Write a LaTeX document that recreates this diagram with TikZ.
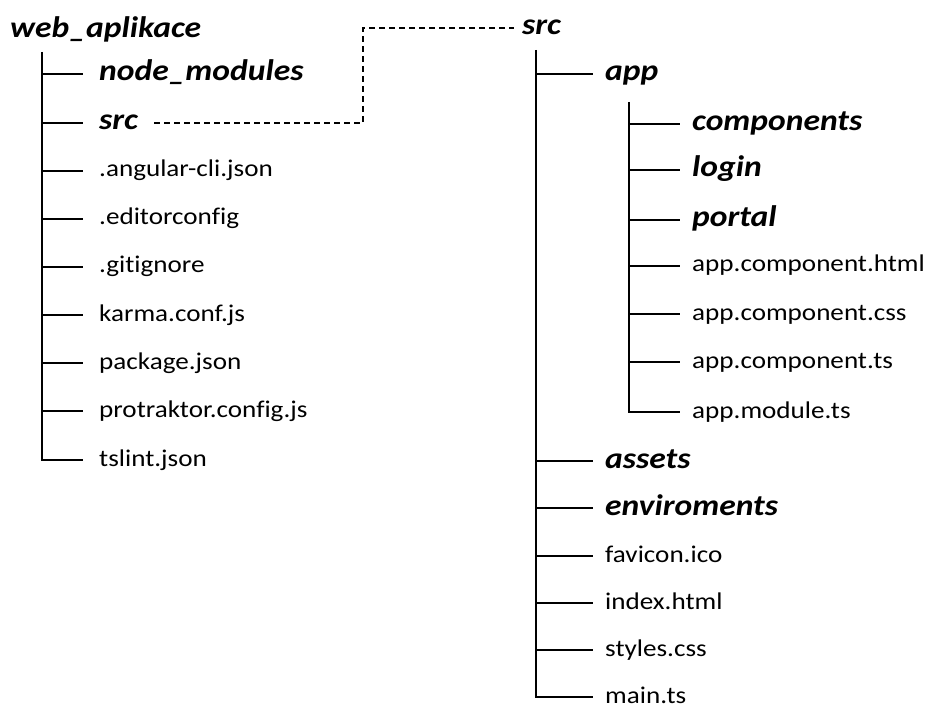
\documentclass[tikz,border=0pt]{standalone}
\usepackage{fontspec}
\setmainfont{Carlito}[FakeStretch=1.13,Ligatures=NoCommon]
\usepackage{tikz}
\usetikzlibrary{positioning}

\tikzset{
  rootnode/.style={anchor=west, inner xsep=8pt, inner ysep=0pt, text height=21pt, text depth=7pt,
    font=\fontsize{29.7}{34}\selectfont\bfseries\itshape},
  dirnode/.style={anchor=west, inner xsep=12pt, inner ysep=0pt, text height=21pt, text depth=7pt,
    font=\fontsize{29.7}{34}\selectfont\bfseries\itshape},
  filenode/.style={anchor=west, inner xsep=12pt, inner ysep=0pt, text height=18pt, text depth=6pt,
    font=\fontsize{24}{28}\selectfont},
  leftgap/.style={inner xsep=16pt},
  treeline/.style={line width=1.6pt},
  linkline/.style={line width=1.4pt, dash pattern=on 6pt off 4pt}
}

\begin{document}
\begin{tikzpicture}[x=1pt,y=-1pt]
\useasboundingbox (0,0) rectangle (928,708);

% web_aplikace
\node[rootnode] (web) at (2,31) {web\_aplikace};
\node[dirnode,leftgap] (nodemod) at (83,74) {node\_modules};
\node[dirnode,leftgap] (srcL) at (83,123) {src};
\node[filenode,leftgap] (angcli) at (83,171) {.angular-cli.json};
\node[filenode,leftgap] (editcfg) at (83,219) {.editorconfig};
\node[filenode,leftgap] (gitign) at (83,267) {.gitignore};
\node[filenode,leftgap] (karma) at (83,315) {karma.conf.js};
\node[filenode,leftgap] (pkg) at (83,363) {package.json};
\node[filenode,leftgap] (protr) at (83,411) {protraktor.config.js};
\node[filenode,leftgap] (tslint) at (83,460) {tslint.json};

\coordinate (webtrunk) at (42,52);
\draw[treeline] (webtrunk) |- (tslint.west);
\foreach \n in {nodemod,srcL,angcli,editcfg,gitign,karma,pkg,protr}
  \draw[treeline] (webtrunk |- \n.west) -- (\n.west);

% src
\node[rootnode] (srcR) at (514,28) {src};
\node[dirnode] (app) at (593,74) {app};
\node[dirnode] (assets) at (593,461) {assets};
\node[dirnode] (envir) at (593,508) {enviroments};
\node[filenode] (favicon) at (593,556) {favicon.ico};
\node[filenode] (index) at (593,603) {index.html};
\node[filenode] (styles) at (593,650) {styles.css};
\node[filenode] (maints) at (593,697) {main.ts};

\coordinate (srctrunk) at (536,50);
\draw[treeline] (srctrunk) |- (maints.west);
\foreach \n in {app,assets,envir,favicon,index,styles}
  \draw[treeline] (srctrunk |- \n.west) -- (\n.west);

% app
\node[dirnode] (comps) at (680,124) {components};
\node[dirnode] (login) at (680,170) {login};
\node[dirnode] (portal) at (680,220) {portal};
\node[filenode] (apphtml) at (680,266) {app.component.html};
\node[filenode] (appcss) at (680,314) {app.component.css};
\node[filenode] (appts) at (680,362) {app.component.ts};
\node[filenode] (appmod) at (680,412) {app.module.ts};

\coordinate (apptrunk) at (629,102);
\draw[treeline] (apptrunk) |- (appmod.west);
\foreach \n in {comps,login,portal,apphtml,appcss,appts}
  \draw[treeline] (apptrunk |- \n.west) -- (\n.west);

% link src -> src
\coordinate (jog) at (363,28);
\draw[linkline] (srcL.east) -| (jog) -- (srcR.west);
\end{tikzpicture}
\end{document}
